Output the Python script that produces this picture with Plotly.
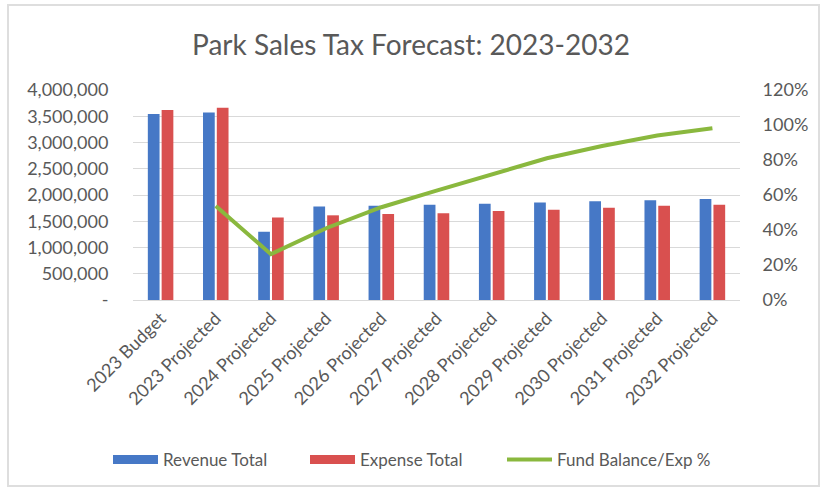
import plotly.graph_objects as go

categories = ["2023 Budget", "2023 Projected", "2024 Projected", "2025 Projected",
              "2026 Projected", "2027 Projected", "2028 Projected", "2029 Projected",
              "2030 Projected", "2031 Projected", "2032 Projected"]
revenue_total = [3545000, 3570000, 1300000, 1780000, 1797000, 1816000, 1835000,
                 1858000, 1880000, 1900000, 1924000]
expense_total = [3620000, 3663000, 1570000, 1613000, 1638000, 1652000, 1695000,
                 1720000, 1758000, 1797000, 1816000]
fund_balance_pct = [None, 0.537, 0.262, 0.41, 0.53, 0.625, 0.715, 0.81, 0.88, 0.94, 0.981]

left_tickvals = [0, 500000, 1000000, 1500000, 2000000, 2500000, 3000000, 3500000, 4000000]
left_ticktext = ["-", "500,000", "1,000,000", "1,500,000", "2,000,000", "2,500,000",
                 "3,000,000", "3,500,000", "4,000,000"]
right_tickvals = [0, 0.2, 0.4, 0.6, 0.8, 1.0, 1.2]
right_ticktext = ["0%", "20%", "40%", "60%", "80%", "100%", "120%"]

FONT = "Lato, 'Open Sans', sans-serif"
TXT = "#595959"
BLUE, RED, GREEN = "#4678c6", "#d9504f", "#8ab83e"

fig = go.Figure()
fig.add_trace(go.Bar(x=categories, y=revenue_total, name="Revenue Total",
                     marker=dict(color=BLUE, line=dict(width=0)), showlegend=False))
fig.add_trace(go.Bar(x=categories, y=expense_total, name="Expense Total",
                     marker=dict(color=RED, line=dict(width=0)), showlegend=False))
fig.add_trace(go.Scatter(x=categories, y=fund_balance_pct, name="Fund Balance/Exp %",
                         mode="lines", yaxis="y2", showlegend=False,
                         line=dict(color=GREEN, width=4)))
# legend entries (Excel-style wide swatches)
fig.add_trace(go.Scatter(x=[None], y=[None], name="Revenue Total", mode="lines",
                         line=dict(color=BLUE, width=9), legend="legend"))
fig.add_trace(go.Scatter(x=[None], y=[None], name="Expense Total", mode="lines",
                         line=dict(color=RED, width=9), legend="legend"))
fig.add_trace(go.Scatter(x=[None], y=[None], name="Fund Balance/Exp %", mode="lines",
                         yaxis="y2", line=dict(color=GREEN, width=4), legend="legend2"))

L, R, T, B = 133, 82, 90, 189
W, H = 822, 489
pw, ph = W - L - R, H - T - B

def px_x(x):
    return (x - L) / pw

def px_y(y):
    return (H - B - y) / ph

fig.update_layout(
    width=W, height=H,
    margin=dict(l=L, r=R, t=T, b=B, autoexpand=False),
    paper_bgcolor="white", plot_bgcolor="white",
    font=dict(family=FONT, color=TXT, size=17),
    title=dict(text="Park Sales Tax Forecast: 2023-2032", x=0.5, xanchor="center",
               y=1 - 45 / H, yanchor="middle", yref="container",
               font=dict(size=28, color=TXT, family=FONT)),
    barmode="group", bargap=0.5, bargroupgap=0.15,
    showlegend=True,
    legend=dict(orientation="h", x=px_x(108), xanchor="left", y=px_y(460),
                yanchor="middle", font=dict(size=17, color=TXT), itemwidth=45,
                entrywidth=137, entrywidthmode="pixels",
                bgcolor="rgba(0,0,0,0)", traceorder="normal"),
    legend2=dict(orientation="h", x=px_x(502), xanchor="left", y=px_y(460),
                 yanchor="middle", font=dict(size=17, color=TXT), itemwidth=45,
                 bgcolor="rgba(0,0,0,0)"),
    xaxis=dict(tickangle=-45, showgrid=False, showline=True, linecolor="#d9d9d9",
               linewidth=1, ticks="", automargin=False,
               tickfont=dict(size=18, color=TXT)),
    yaxis=dict(range=[0, 4000000], tickvals=left_tickvals, ticktext=left_ticktext,
               showgrid=True, gridcolor="#d9d9d9", gridwidth=1, zeroline=False,
               showline=False, ticks="outside", ticklen=20, tickcolor="rgba(0,0,0,0)",
               automargin=False, tickfont=dict(size=18, color=TXT)),
    yaxis2=dict(range=[0, 1.2], tickvals=right_tickvals, ticktext=right_ticktext,
                overlaying="y", side="right", showgrid=False, zeroline=False,
                showline=False, ticks="outside", ticklen=18, tickcolor="rgba(0,0,0,0)",
                automargin=False, tickfont=dict(size=18, color=TXT)),
    shapes=[dict(type="rect", xref="paper", yref="paper",
                 x0=px_x(8), x1=px_x(819), y0=px_y(486), y1=px_y(5),
                 line=dict(color="#dedede", width=2), layer="below")],
)

fig.write_html("out.html", config={"displayModeBar": False},
               post_script="document.body.style.margin='0px';")
